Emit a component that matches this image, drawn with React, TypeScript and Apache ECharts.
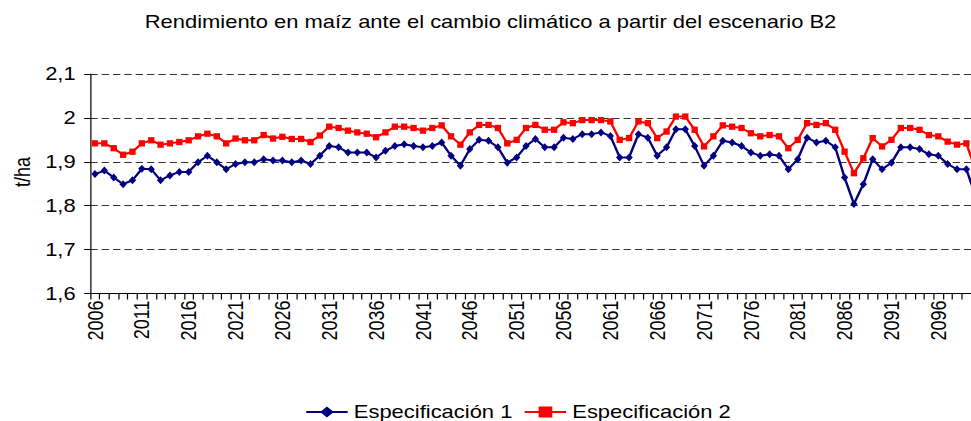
import React, { useEffect, useRef } from "react";
import * as echarts from "echarts";

const years: string[] = Array.from({ length: 95 }, (_, i) => String(2006 + i));

const espec1: number[] = [
  1.872, 1.880, 1.864, 1.849, 1.858, 1.884, 1.883, 1.858, 1.869, 1.877,
  1.877, 1.899, 1.914, 1.899, 1.883, 1.895, 1.899, 1.899, 1.906, 1.903,
  1.903, 1.899, 1.903, 1.895, 1.914, 1.936, 1.933, 1.921, 1.921, 1.921,
  1.910, 1.925, 1.936, 1.940, 1.936, 1.933, 1.936, 1.944, 1.914, 1.891,
  1.929, 1.950, 1.948, 1.933, 1.898, 1.910, 1.936, 1.952, 1.933, 1.933,
  1.955, 1.952, 1.963, 1.963, 1.967, 1.959, 1.910, 1.910, 1.963, 1.955,
  1.914, 1.933, 1.974, 1.974, 1.936, 1.891, 1.914, 1.948, 1.944, 1.936,
  1.921, 1.914, 1.917, 1.914, 1.883, 1.906, 1.955, 1.944, 1.948, 1.933,
  1.864, 1.804, 1.849, 1.906, 1.883, 1.898, 1.933, 1.933, 1.929, 1.917,
  1.914, 1.895, 1.883, 1.883, 1.820,
];

const espec2: number[] = [
  1.942, 1.942, 1.931, 1.916, 1.923, 1.942, 1.949, 1.939, 1.942, 1.945,
  1.949, 1.958, 1.964, 1.958, 1.942, 1.953, 1.949, 1.949, 1.961, 1.953,
  1.957, 1.952, 1.952, 1.945, 1.960, 1.980, 1.977, 1.971, 1.967, 1.964,
  1.956, 1.967, 1.980, 1.980, 1.977, 1.971, 1.977, 1.983, 1.958, 1.939,
  1.967, 1.984, 1.984, 1.977, 1.942, 1.950, 1.977, 1.984, 1.973, 1.973,
  1.990, 1.988, 1.995, 1.995, 1.995, 1.992, 1.950, 1.954, 1.992, 1.988,
  1.954, 1.969, 2.003, 2.003, 1.973, 1.935, 1.958, 1.983, 1.980, 1.977,
  1.965, 1.958, 1.961, 1.958, 1.931, 1.950, 1.988, 1.984, 1.988, 1.973,
  1.923, 1.874, 1.908, 1.954, 1.935, 1.950, 1.977, 1.977, 1.973, 1.961,
  1.958, 1.946, 1.939, 1.942, 1.880,
];

const seriesNames: string[] = ["Especificación 1", "Especificación 2"];
const titleText = "Rendimiento en maíz ante el cambio climático a partir del escenario B2";
const yAxisName = "t/ha";

const K = 1.22; // horizontal stretch of the reference
const FULL_W = 971;
const H = 421;
const PLOT_LEFT = 90.3 / K;
const PLOT_W = (95 * 9.37) / K;
const BASE_W = Math.ceil(PLOT_LEFT + PLOT_W + 4);
const FONT = "'Liberation Sans', Arial, sans-serif";

export default function App() {
  const ref = useRef<HTMLDivElement>(null);

  useEffect(() => {
    if (!ref.current) return;
    const chart = echarts.init(ref.current, undefined, { renderer: "svg" });
    chart.setOption({
      animation: false,
      backgroundColor: "#ffffff",
      textStyle: { fontFamily: FONT },
      graphic: [
        {
          type: "text",
          x: 490.5 / K,
          y: 22,
          style: {
            text: titleText,
            font: `18px ${FONT}`,
            fill: "#000",
            align: "center",
            verticalAlign: "middle",
          },
        },
        {
          type: "text",
          x: 22.5 / K,
          y: 172,
          rotation: Math.PI / 2,
          style: {
            text: yAxisName,
            font: `18px ${FONT}`,
            fill: "#000",
            align: "center",
            verticalAlign: "middle",
          },
        },
      ],
      legend: {
        data: seriesNames,
        left: 305 / K,
        top: 410 - 7,
        padding: 0,
        itemWidth: 34,
        itemHeight: 14,
        itemGap: 9,
        textStyle: { fontSize: 18, color: "#000", fontFamily: FONT },
      },
      grid: {
        left: PLOT_LEFT,
        width: PLOT_W,
        top: 74,
        bottom: H - 293.5,
        containLabel: false,
      },
      xAxis: {
        type: "category",
        data: years,
        boundaryGap: true,
        axisLine: { show: true, lineStyle: { color: "#000", width: 1 } },
        axisTick: { show: true, interval: 0, length: 6, lineStyle: { color: "#000" } },
        axisLabel: {
          interval: 4,
          rotate: 90,
          margin: 7,
          fontSize: 18,
          color: "#000",
          fontFamily: FONT,
        },
        splitLine: { show: false },
      },
      yAxis: {
        type: "value",
        min: 1.6,
        max: 2.1,
        interval: 0.1,
        axisLine: { show: true, lineStyle: { color: "#000", width: 1 } },
        axisTick: { show: true, length: 5, lineStyle: { color: "#000" } },
        axisLabel: {
          margin: 12,
          fontSize: 18,
          color: "#000",
          fontFamily: FONT,
          formatter: (v: number) => String(parseFloat(v.toFixed(1))).replace(".", ","),
        },
        splitLine: {
          show: true,
          lineStyle: { color: "#333", width: 1, type: [6, 3.3] },
        },
      },
      series: [
        {
          name: seriesNames[0],
          type: "line",
          data: espec1,
          symbol: "diamond",
          symbolSize: [6, 8],
          showAllSymbol: true,
          color: "#000080",
          itemStyle: { color: "#000080" },
          lineStyle: { color: "#000080", width: 2 },
          z: 3,
        },
        {
          name: seriesNames[1],
          type: "line",
          data: espec2,
          symbol: "rect",
          symbolSize: [5.2, 6.3],
          showAllSymbol: true,
          color: "#ff0000",
          itemStyle: { color: "#ff0000" },
          lineStyle: { color: "#ff0000", width: 2 },
          z: 2,
        },
      ],
    });
    return () => chart.dispose();
  }, []);

  return (
    <div
      style={{
        position: "fixed",
        left: 0,
        top: 0,
        width: FULL_W,
        height: H,
        overflow: "hidden",
        background: "#fff",
      }}
    >
      <div
        ref={ref}
        style={{
          width: BASE_W,
          height: H,
          transform: `scaleX(${K})`,
          transformOrigin: "0 0",
        }}
      />
    </div>
  );
}
